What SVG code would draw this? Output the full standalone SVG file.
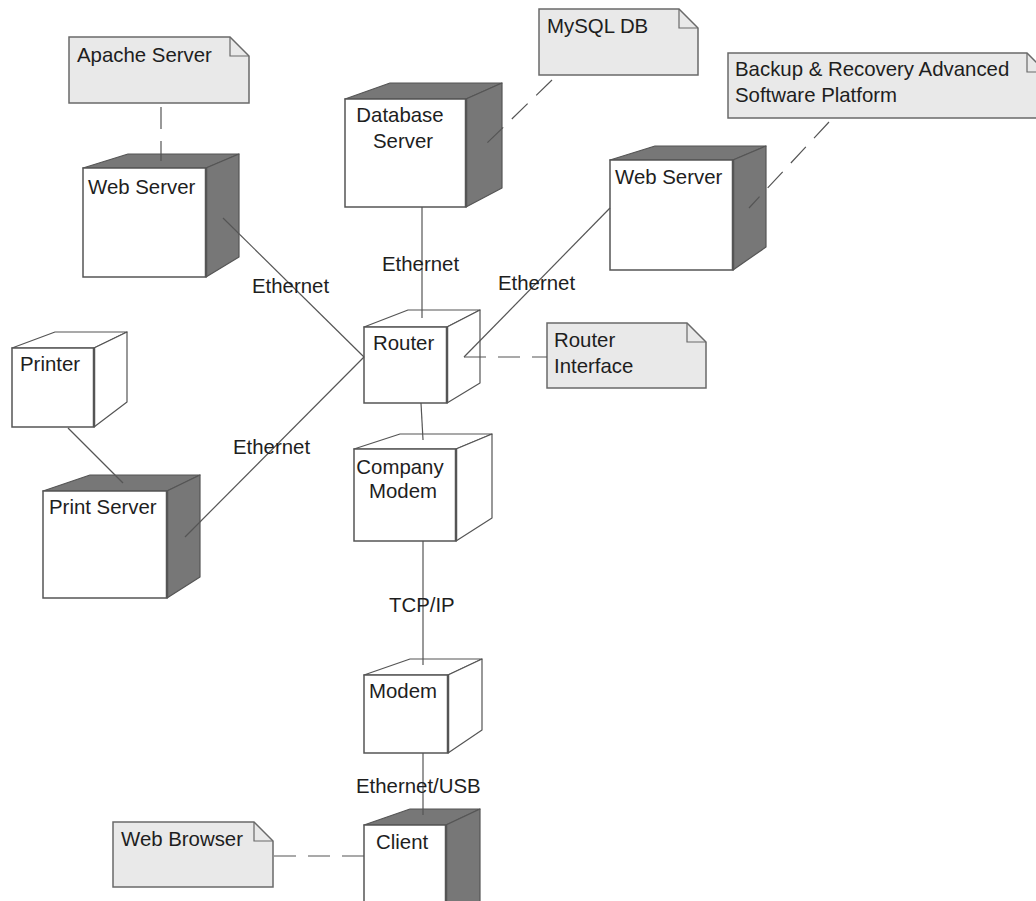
<svg xmlns="http://www.w3.org/2000/svg" width="1036" height="901" viewBox="0 0 1036 901">
<style>
.bg{fill:#ffffff}
.front{fill:#ffffff;stroke:#555555;stroke-width:1.5}
.edge{stroke:#555555;stroke-width:2.5}
.dark{fill:#777777;stroke:#555555;stroke-width:1.2;stroke-linejoin:round}
.light{fill:#ffffff;stroke:#555555;stroke-width:1.2;stroke-linejoin:round}
.note{fill:#e9e9e9;stroke:#6a6a6a;stroke-width:1.5}
.fold{fill:none;stroke:#6a6a6a;stroke-width:1.2}
.t{font-family:"Liberation Sans",Arial,sans-serif;font-size:20.4px;fill:#1e1e1e}
.c{text-anchor:middle}
.link{stroke:#555555;stroke-width:1.2;fill:none}
.dash{stroke:#555555;stroke-width:1.2;fill:none;stroke-dasharray:22 12}
</style>
<rect class="bg" x="0" y="0" width="1036" height="901"/>

<g id="note-apache">
<polygon class="note" points="69,37 230,37 249,56 249,103 69,103"/>
<polyline class="fold" points="230,37 230,56 249,56"/>
<text class="t" x="77" y="62">Apache Server</text>
</g>

<g id="note-mysql">
<polygon class="note" points="539,9 679,9 698,28 698,75 539,75"/>
<polyline class="fold" points="679,9 679,28 698,28"/>
<text class="t" x="547" y="33">MySQL DB</text>
</g>

<g id="note-backup">
<polygon class="note" points="728,53 1027,53 1046,72 1046,118 728,118"/>
<polyline class="fold" points="1027,53 1027,72 1046,72"/>
<text class="t" x="735" y="76">Backup &amp; Recovery Advanced</text>
<text class="t" x="735" y="102">Software Platform</text>
</g>

<g id="note-router">
<polygon class="note" points="547,323 687,323 706,342 706,388 547,388"/>
<polyline class="fold" points="687,323 687,342 706,342"/>
<text class="t" x="554" y="347">Router</text>
<text class="t" x="554" y="373">Interface</text>
</g>

<g id="note-browser">
<polygon class="note" points="113,822 254,822 273,841 273,887 113,887"/>
<polyline class="fold" points="254,822 254,841 273,841"/>
<text class="t" x="121" y="846">Web Browser</text>
</g>

<g id="web-server-left">
<polygon class="dark" points="83,168 128,154 239,154 206,168"/>
<polygon class="dark" points="206,168 239,154 239,257 206,277"/>
<rect class="front" x="83" y="168" width="123" height="109"/>
<line class="edge" x1="206" y1="168" x2="206" y2="277"/>
<text class="t" x="88" y="194">Web Server</text>
</g>

<g id="database-server">
<polygon class="dark" points="345,99 390,83 502,83 466,99"/>
<polygon class="dark" points="466,99 502,83 502,188 466,207"/>
<rect class="front" x="345" y="99" width="121" height="108"/>
<line class="edge" x1="466" y1="99" x2="466" y2="207"/>
<text class="t c" x="400" y="122">Database</text>
<text class="t c" x="403" y="148">Server</text>
</g>

<g id="web-server-right">
<polygon class="dark" points="610,160 655,146 766,146 733,160"/>
<polygon class="dark" points="733,160 766,146 766,247 733,270"/>
<rect class="front" x="610" y="160" width="123" height="110"/>
<line class="edge" x1="733" y1="160" x2="733" y2="270"/>
<text class="t" x="615" y="184">Web Server</text>
</g>

<g id="printer">
<polygon class="light" points="12,348 55,332 127,332 94,348"/>
<polygon class="light" points="94,348 127,332 127,402 94,427"/>
<rect class="front" x="12" y="348" width="82" height="79"/>
<line class="edge" x1="94" y1="348" x2="94" y2="427"/>
<text class="t" x="20" y="371">Printer</text>
</g>

<g id="print-server">
<polygon class="dark" points="43,491 90,475 200,475 167,491"/>
<polygon class="dark" points="167,491 200,475 200,577 167,598"/>
<rect class="front" x="43" y="491" width="124" height="107"/>
<line class="edge" x1="167" y1="491" x2="167" y2="598"/>
<text class="t" x="49" y="514">Print Server</text>
</g>

<g id="router">
<polygon class="light" points="364,327 408,310 480,310 447,327"/>
<polygon class="light" points="447,327 480,310 480,383 447,403"/>
<rect class="front" x="364" y="327" width="83" height="76"/>
<line class="edge" x1="447" y1="327" x2="447" y2="403"/>
<text class="t" x="373" y="350">Router</text>
</g>

<g id="company-modem">
<polygon class="light" points="354,449 400,434 492,434 456,449"/>
<polygon class="light" points="456,449 492,434 492,518 456,541"/>
<rect class="front" x="354" y="449" width="102" height="92"/>
<line class="edge" x1="456" y1="449" x2="456" y2="541"/>
<text class="t c" x="400" y="474">Company</text>
<text class="t c" x="403" y="498">Modem</text>
</g>

<g id="modem">
<polygon class="light" points="364,675 410,659 482,659 448,675"/>
<polygon class="light" points="448,675 482,659 482,730 448,753"/>
<rect class="front" x="364" y="675" width="84" height="78"/>
<line class="edge" x1="448" y1="675" x2="448" y2="753"/>
<text class="t" x="369" y="698">Modem</text>
</g>

<g id="client">
<polygon class="dark" points="364,825 410,809 480,809 446,825"/>
<polygon class="dark" points="446,825 480,809 480,920 446,930"/>
<rect class="front" x="364" y="825" width="82" height="100"/>
<line class="edge" x1="446" y1="825" x2="446" y2="925"/>
<text class="t" x="376" y="849">Client</text>
</g>

<g id="connectors">
<line class="link" x1="223" y1="218" x2="364" y2="357"/>
<line class="link" x1="185" y1="537" x2="364" y2="357"/>
<line class="link" x1="422" y1="207" x2="422" y2="318"/>
<line class="link" x1="610" y1="208" x2="464" y2="357"/>
<line class="link" x1="421" y1="403" x2="423" y2="440"/>
<line class="link" x1="423" y1="541" x2="423" y2="665"/>
<line class="link" x1="423" y1="753" x2="423" y2="815"/>
<line class="link" x1="68" y1="428" x2="123" y2="483"/>
<line class="dash" x1="161" y1="107" x2="161" y2="161"/>
<line class="dash" x1="552" y1="80" x2="484" y2="146"/>
<line class="dash" x1="829" y1="122" x2="749" y2="208"/>
<line class="dash" x1="464" y1="357" x2="547" y2="357"/>
<line class="dash" x1="364" y1="856" x2="273" y2="856"/>
<text class="t" x="382" y="271">Ethernet</text>
<text class="t" x="252" y="293">Ethernet</text>
<text class="t" x="498" y="290">Ethernet</text>
<text class="t" x="233" y="454">Ethernet</text>
<text class="t" x="389" y="612">TCP/IP</text>
<text class="t" x="356" y="793">Ethernet/USB</text>
</g>
</svg>
